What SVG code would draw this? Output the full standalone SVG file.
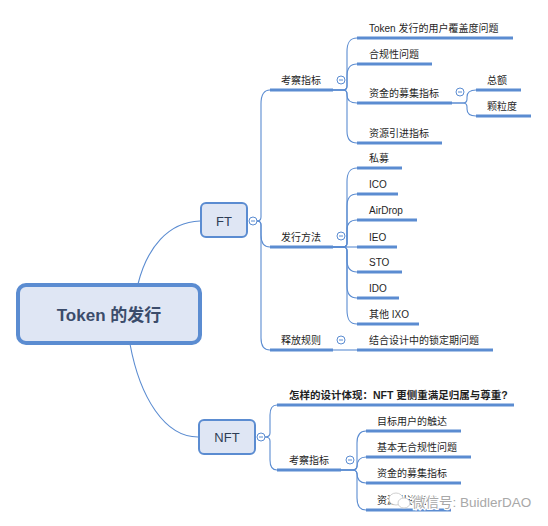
<svg xmlns="http://www.w3.org/2000/svg" width="548" height="526" viewBox="0 0 548 526">
<style>
.ln{fill:none;stroke:#5b8cd1;stroke-width:1.1}
.ul{stroke:#5b8cd1;stroke-width:3}
.t{font-family:"Liberation Sans","Noto Sans CJK SC",sans-serif;font-size:10px;fill:#1f1f1f}
.b{font-weight:bold;font-size:10.5px}
.box{fill:#dfe6f4;stroke:#5b8cd1;stroke-width:2}
.nt{font-family:"Liberation Sans","Noto Sans CJK SC",sans-serif;font-size:13px;fill:#2e3d55;text-anchor:middle}
.cb{fill:#fff;stroke:#5b8cd1;stroke-width:1}
.cm{stroke:#5b8cd1;stroke-width:1}
</style>
<defs>
<g id="col"><circle class="cb" r="4"/><line class="cm" x1="-2" y1="0" x2="2" y2="0"/></g>
</defs>
<rect width="548" height="526" fill="#fff"/>
<g id="connectors">
<path class="ln" d="M200,221 C168,222 147,248 138,284"/>
<path class="ln" d="M130,344 C140,398 165,437 198,437"/>
<path class="ln" d="M257,221 Q261,221 261,217 L261,104 C261,94 264,90 270,90"/>
<path class="ln" d="M257,221 Q261,221 261,225 L261,235 C261,243 264,247 270,247"/>
<path class="ln" d="M257,221 Q261,221 261,225 L261,338 C261,346 264,350 270,350"/>
<path class="ln" d="M333,90 L343,90 Q347,90 347,86 L347,52 C347,42 350,38 357,38"/>
<path class="ln" d="M333,90 L343,90 Q347,90 347,86 L347,76 C347,68 350,64 357,64"/>
<path class="ln" d="M333,90 L343,90 Q347,90 347,94 L347,95 C347,100 350,103 357,103"/>
<path class="ln" d="M333,90 L343,90 Q347,90 347,94 L347,131 C347,139 350,143 357,143"/>
<path class="ln" d="M452,103 L463,103 Q467,103 467,99 L467,97 C467,92 470,90 476,90"/>
<path class="ln" d="M452,103 L463,103 Q467,103 467,107 L467,109 C467,114 470,116 476,116"/>
<path class="ln" d="M333,247 L343,247 Q347,247 347,243 L347,182 C347,172 350,168 357,168"/>
<path class="ln" d="M333,247 L343,247 Q347,247 347,243 L347,206 C347,198 350,194 357,194"/>
<path class="ln" d="M333,247 L343,247 Q347,247 347,243 L347,230 C347,223 350,220 357,220"/>
<path class="ln" d="M333,247 L357,247"/>
<path class="ln" d="M333,247 L343,247 Q347,247 347,251 L347,260 C347,268 350,272 357,272"/>
<path class="ln" d="M333,247 L343,247 Q347,247 347,251 L347,286 C347,294 350,298 357,298"/>
<path class="ln" d="M333,247 L343,247 Q347,247 347,251 L347,310 C347,320 350,324 357,324"/>
<path class="ln" d="M333,350 L357,350"/>
<path class="ln" d="M265,437 Q270,437 270,433 L270,415 C270,408 272,405 277,405"/>
<path class="ln" d="M265,437 Q270,437 270,441 L270,460 C270,467 272,470 277,470"/>
<path class="ln" d="M341,470 L352,470 Q357,470 357,466 L357,443 C357,435 360,431 366,431"/>
<path class="ln" d="M341,470 L352,470 Q357,470 357,466 L357,467 C357,461 360,457 366,457"/>
<path class="ln" d="M341,470 L352,470 Q357,470 357,474 L357,473 C357,480 360,483 366,483"/>
<path class="ln" d="M341,470 L352,470 Q357,470 357,474 L357,498 C357,506 360,510 366,510"/>
</g>
<g id="root">
<rect x="18" y="285" width="182" height="58" rx="8" fill="#dfe6f4" stroke="#5b8cd1" stroke-width="4"/>
<text x="109" y="321" class="nt" style="font-size:17px;font-weight:bold;fill:#3b4c6b">Token 的发行</text>
</g>
<g id="ft">
<rect class="box" x="201" y="203" width="46" height="34" rx="5"/>
<text x="224" y="226" class="nt">FT</text>
<use href="#col" x="253" y="221"/>
</g>
<g id="nft">
<rect class="box" x="199" y="420" width="56" height="34" rx="5"/>
<text x="227" y="442" class="nt">NFT</text>
<use href="#col" x="261" y="437"/>
</g>
<g id="ft-kaocha">
<line class="ul" x1="270" y1="90" x2="333" y2="90"/>
<text class="t" x="281" y="84">考察指标</text>
<use href="#col" x="341" y="80"/>
</g>
<g id="ft-k1"><line class="ul" x1="357" y1="38" x2="513" y2="38"/><text class="t" x="369" y="32">Token 发行的用户覆盖度问题</text></g>
<g id="ft-k2"><line class="ul" x1="357" y1="64" x2="432" y2="64"/><text class="t" x="369" y="58">合规性问题</text></g>
<g id="ft-k3"><line class="ul" x1="357" y1="103" x2="452" y2="103"/><text class="t" x="369" y="97">资金的募集指标</text><use href="#col" x="460" y="92"/></g>
<g id="ft-k3a"><line class="ul" x1="476" y1="90" x2="521" y2="90"/><text class="t" x="487" y="84">总额</text></g>
<g id="ft-k3b"><line class="ul" x1="476" y1="116" x2="531" y2="116"/><text class="t" x="487" y="110">颗粒度</text></g>
<g id="ft-k4"><line class="ul" x1="357" y1="143" x2="442" y2="143"/><text class="t" x="369" y="137">资源引进指标</text></g>
<g id="ft-faxing">
<line class="ul" x1="270" y1="247" x2="333" y2="247"/>
<text class="t" x="281" y="241">发行方法</text>
<use href="#col" x="341" y="236"/>
</g>
<g id="ft-f1"><line class="ul" x1="357" y1="168" x2="402" y2="168"/><text class="t" x="369" y="162">私募</text></g>
<g id="ft-f2"><line class="ul" x1="357" y1="194" x2="398" y2="194"/><text class="t" x="369" y="188">ICO</text></g>
<g id="ft-f3"><line class="ul" x1="357" y1="220" x2="417" y2="220"/><text class="t" x="369" y="214">AirDrop</text></g>
<g id="ft-f4"><line class="ul" x1="357" y1="247" x2="397" y2="247"/><text class="t" x="369" y="241">IEO</text></g>
<g id="ft-f5"><line class="ul" x1="357" y1="272" x2="402" y2="272"/><text class="t" x="369" y="266">STO</text></g>
<g id="ft-f6"><line class="ul" x1="357" y1="298" x2="399" y2="298"/><text class="t" x="369" y="292">IDO</text></g>
<g id="ft-f7"><line class="ul" x1="357" y1="324" x2="419" y2="324"/><text class="t" x="369" y="318">其他 IXO</text></g>
<g id="ft-shifang">
<line class="ul" x1="270" y1="350" x2="333" y2="350"/>
<text class="t" x="281" y="344">释放规则</text>
<use href="#col" x="341" y="340"/>
</g>
<g id="ft-s1"><line class="ul" x1="357" y1="350" x2="493" y2="350"/><text class="t" x="369" y="344">结合设计中的锁定期问题</text></g>
<g id="nft-q"><line class="ul" x1="277" y1="405" x2="514" y2="405"/><text class="t b" x="289" y="399">怎样的设计体现：NFT 更侧重满足归属与尊重?</text></g>
<g id="nft-kaocha">
<line class="ul" x1="277" y1="470" x2="341" y2="470"/>
<text class="t" x="289" y="464">考察指标</text>
<use href="#col" x="350" y="460"/>
</g>
<g id="nft-k1"><line class="ul" x1="366" y1="431" x2="461" y2="431"/><text class="t" x="377" y="425">目标用户的触达</text></g>
<g id="nft-k2"><line class="ul" x1="366" y1="457" x2="471" y2="457"/><text class="t" x="377" y="451">基本无合规性问题</text></g>
<g id="nft-k3"><line class="ul" x1="366" y1="483" x2="461" y2="483"/><text class="t" x="377" y="477">资金的募集指标</text></g>
<g id="nft-k4"><line class="ul" x1="366" y1="510" x2="451" y2="510"/><text class="t" x="377" y="504">资源引进指标</text></g>
<g id="watermark">
<ellipse cx="396" cy="499" rx="7" ry="6" fill="#fff" stroke="#d0d0d0" stroke-width="1"/>
<ellipse cx="404" cy="503" rx="6" ry="5" fill="#fff" stroke="#d0d0d0" stroke-width="1"/>
<text x="412" y="507" style="font-family:'Liberation Sans','Noto Sans CJK SC',sans-serif;font-size:13.5px;fill:#a8a8a8;stroke:#fff;stroke-width:2.5;paint-order:stroke">微信号: BuidlerDAO</text>
</g>
</svg>
